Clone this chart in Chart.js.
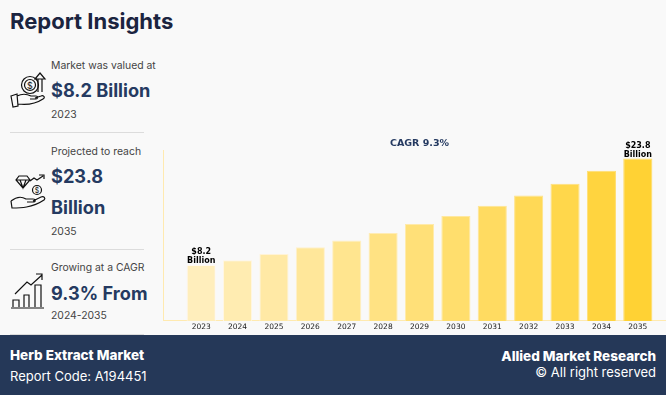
<!DOCTYPE html>
<html>
<head>
<meta charset="utf-8">
<title>Herb Extract Market</title>
<script src="https://cdn.jsdelivr.net/npm/chart.js@4"></script>
<style>
    html, body { margin: 0; padding: 0; }
    body { width: 666px; height: 395px; background: #f9f9f9; position: relative; overflow: hidden; font-family: Inter, "Open Sans", sans-serif; }
    .txt { position: absolute; white-space: nowrap; }
    .heading { left: 10px; top: 7px; font-size: 22px; line-height: 28px; font-weight: 700; color: #1b2440; }
    .small { left: 51px; font-size: 10.4px; line-height: 14px; color: #444; }
    .big { left: 51px; font-size: 18.2px; line-height: 24px; font-weight: 700; color: #253a61; }
    .rule { position: absolute; left: 10px; width: 134px; height: 1px; background: #dcdcdc; }
    .icon { position: absolute; left: 9px; fill: none; stroke: #111; stroke-width: 1.2; }
    #axis { position: absolute; left: 163px; top: 150px; width: 503px; height: 170px; border-left: 1.5px solid #ffeab0; border-bottom: 1.5px solid #ffeab0; box-sizing: content-box; }
    #wrap { position: absolute; left: 164px; top: 135px; width: 502px; height: 198px; }
    #footer { position: absolute; left: 0; top: 335px; width: 666px; height: 60px; background: #253858; }
    #footer .txt { color: #fff; font-size: 13px; line-height: 18px; }
    #footer .b { font-weight: 800; font-size: 13.5px; }
</style>
</head>
<body>
<div class="txt heading">Report Insights</div>

<svg class="icon" style="top:70px" width="46" height="40" viewBox="0 0 46 40">
    <circle cx="21" cy="15" r="8.5"/><circle cx="21" cy="15" r="5.5"/>
    <text x="21" y="18.5" font-size="9" text-anchor="middle" fill="#111" stroke="none">$</text>
    <path d="M29 22V9M33 22V9M26 9l5-6 5 6z"/>
    <path d="M2 26l6-2 1 12-5 1zM8 26c6-3 10-2 14 0h5c2 0 2 3 0 3h-6M9 34c8 1 16 1 25-5 3-2 0-4-2-3l-6 2"/>
</svg>
<div class="txt small" style="top:59px">Market was valued at</div>
<div class="txt big" style="top:78px">$8.2 Billion</div>
<div class="txt small" style="top:108px">2023</div>
<div class="rule" style="top:132px"></div>

<svg class="icon" style="top:172px" width="46" height="40" viewBox="0 0 46 40">
    <path d="M10 4h8l3 4-7 8-7-8zM7 8h14M11 8l3 8 3-8"/>
    <circle cx="28" cy="18" r="4.5"/>
    <text x="28" y="21" font-size="7" text-anchor="middle" fill="#111" stroke="none">$</text>
    <path d="M21 9l4-3 3 2 6-4M30 3h5v4"/>
    <path d="M2 29c5-4 10-5 15-2h7c3 0 3 3 0 3h-6M2 29l1 7c8 0 20 0 32-8 2-2 0-4-3-3l-8 4"/>
</svg>
<div class="txt small" style="top:145px">Projected to reach</div>
<div class="txt big" style="top:164px">$23.8</div>
<div class="txt big" style="top:195px">Billion</div>
<div class="txt small" style="top:225px">2035</div>
<div class="rule" style="top:249px"></div>

<svg class="icon" style="top:270px" width="46" height="42" viewBox="0 0 46 42">
    <path d="M2 38h33M4 37v-7h6v7M15 37V25h5v12M26 37V15h6v22"/>
    <path d="M6 24l12-12 4 3 11-10M27 4h6v6"/>
</svg>
<div class="txt small" style="top:261px">Growing at a CAGR</div>
<div class="txt big" style="top:281px">9.3% From</div>
<div class="txt small" style="top:309px">2024-2035</div>
<div class="rule" style="top:334px"></div>

<div id="axis"></div>
<div id="wrap"><canvas id="marketChart"></canvas></div>

<div id="footer">
    <div class="txt b" style="left:10px;top:11px">Herb Extract Market</div>
    <div class="txt" style="left:10px;top:32px">Report Code: A194451</div>
    <div class="txt b" style="right:10px;top:12px">Allied Market Research</div>
    <div class="txt" style="right:10px;top:28px">© All right reserved</div>
</div>

<script>
const years = ['2023', '2024', '2025', '2026', '2027', '2028', '2029', '2030', '2031', '2032', '2033', '2034', '2035'];
const marketSize = [8.2, 8.9, 9.8, 10.8, 11.8, 12.9, 14.2, 15.4, 16.9, 18.4, 20.1, 22.0, 23.8];
const barNotes = [['$8.2', 'Billion'], null, null, null, null, null, null, null, null, null, null, null, ['$23.8', 'Billion']];
const chartTitle = 'CAGR 9.3%';

// pale to full yellow, left to right
function barColor(index, lighten) {
    const t = index / (years.length - 1);
    const g = 238 - 28 * t + lighten * 10;
    const b = 188 - 136 * t + lighten * 50;
    return `rgb(255, ${Math.round(g)}, ${Math.round(b)})`;
}

const barNotesPlugin = {
    id: 'barNotes',
    afterDatasetsDraw(chart) {
        const ctx = chart.ctx;
        const bars = chart.getDatasetMeta(0).data;
        ctx.save();
        ctx.font = 'bold 8px "DejaVu Sans"';
        ctx.fillStyle = '#000';
        ctx.textAlign = 'center';
        ctx.textBaseline = 'alphabetic';
        barNotes.forEach(function(note, i) {
            if (!note) return;
            ctx.fillText(note[0], bars[i].x, bars[i].y - 11);
            ctx.fillText(note[1], bars[i].x, bars[i].y - 2);
        });
        ctx.restore();
    }
};

new Chart(document.getElementById('marketChart'), {
    type: 'bar',
    data: {
        labels: years,
        datasets: [{
            data: marketSize,
            backgroundColor: (c) => barColor(c.dataIndex, 0),
            borderColor: (c) => barColor(c.dataIndex, 1),
            borderWidth: 1,
            categoryPercentage: 0.8,
            barPercentage: 1
        }]
    },
    options: {
        responsive: true,
        maintainAspectRatio: false,
        animation: false,
        layout: { padding: { left: 19, right: 10, top: 0, bottom: 0 } },
        plugins: {
            legend: { display: false },
            tooltip: { enabled: false },
            title: {
                display: true,
                text: chartTitle,
                fullSize: false,
                color: '#253a61',
                font: { family: '"DejaVu Sans"', size: 9.5, weight: 'bold' },
                padding: { top: 3, bottom: 1 }
            }
        },
        scales: {
            x: {
                grid: { display: false, drawTicks: false },
                border: { display: false },
                ticks: { color: '#222', font: { family: '"DejaVu Sans"', size: 7.5 }, maxRotation: 0, padding: 1.5 }
            },
            y: { display: false, min: 0, max: 25 }
        }
    },
    plugins: [barNotesPlugin]
});
</script>
</body>
</html>
